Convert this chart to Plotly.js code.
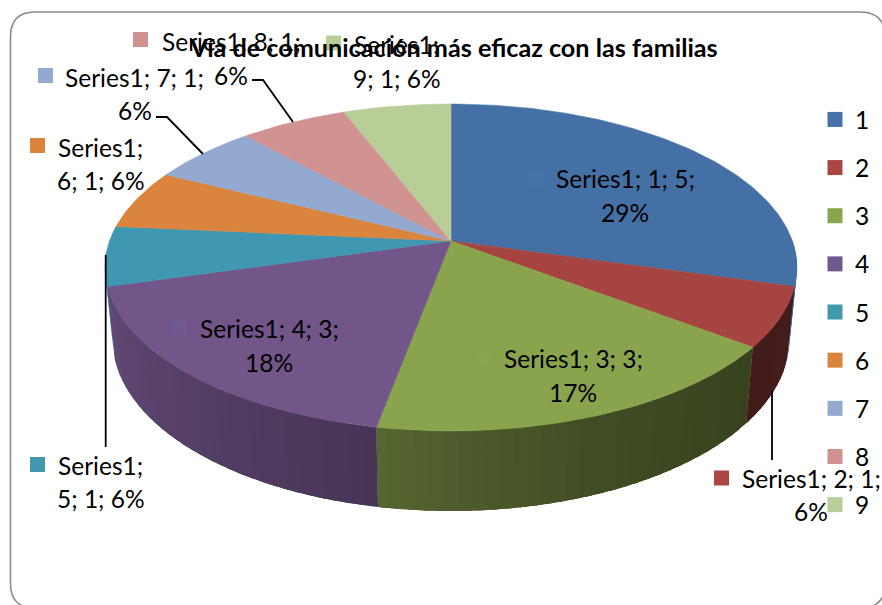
<!DOCTYPE html>
<html>
<head>
<meta charset="utf-8">
<script src="https://cdn.plot.ly/plotly-3.0.1.min.js"></script>
<style>html,body{margin:0;padding:0;background:#fff}#c{width:882px;height:605px}</style>
</head>
<body>
<div id="c"></div>
<script>
// ---- data ----
const categories = ["1","2","3","4","5","6","7","8","9"];
const values = [5,1,3,3,1,1,1,1,1];
const percents = ["29%","6%","17%","18%","6%","6%","6%","6%","6%"];
const seriesName = "Series1";
const chartTitle = "Vía de comunicación más eficaz con las familias";
const colors = ["#4570a6","#a64442","#8aa44e","#725589","#4097b1","#db843d","#93a9cf","#d19392","#b9cd96"];

// ---- pie projection (pixel-like frame) ----
const geo = {cx:451, cy:241, Rx:341.4, Ry:159.2, k:0.162, s:0.978, D:70.6};
const shadeAngles = [88,105,127,160,190,254,277];
const shadeFactors = [1,0.41,0.40,0.47,0.62,0.86,0.95];

function proj(deg, low){
  const t = deg*Math.PI/180, u = Math.sin(t), v = Math.cos(t), w = 1+geo.k*v, s = low?geo.s:1;
  return [geo.cx+geo.Rx*u*s/w, geo.cy-geo.Ry*v*s/w+(low?geo.D/w:0)];
}
function shade(deg){
  let i=0; while(i<shadeAngles.length-2 && deg>shadeAngles[i+1]) i++;
  const f=(deg-shadeAngles[i])/(shadeAngles[i+1]-shadeAngles[i]);
  return shadeFactors[i]+f*(shadeFactors[i+1]-shadeFactors[i]);
}
function dim(hex,f){
  const n=parseInt(hex.slice(1),16);
  return `rgb(${Math.round((n>>16&255)*f)},${Math.round((n>>8&255)*f)},${Math.round((n&255)*f)})`;
}
const total = values.reduce((a,b)=>a+b,0);
const bounds=[0]; values.forEach(v=>bounds.push(bounds[bounds.length-1]+v/total*360));

const traces=[];
function poly(xs,ys,col,w){
  traces.push({type:"scatter",mode:"lines",x:xs,y:ys,fill:"toself",fillcolor:col,
    line:{color:col,width:w},showlegend:false,hoverinfo:"skip"});
}
// side wall: every band runs under the next one so that no seam shows
const sideOrder=[0,4,1,2,3];
sideOrder.forEach(i=>{
  const a0=Math.max(bounds[i],88), a1=Math.min(bounds[i+1],277);
  for(let a=a0;a<a1;a+=2){
    const b=Math.min(a+2,a1), m=(a+b)/2, e=Math.min(a+5,a1);
    const col=(i===0||i===4)?colors[i]:dim(colors[i],shade(m));
    const xs=[],ys=[];
    for(let t=a;t<e;t+=1){const q=proj(t,false);xs.push(q[0]);ys.push(q[1]);}
    let q=proj(e,false);xs.push(q[0]);ys.push(q[1]);
    q=proj(e,true);xs.push(q[0]);ys.push(q[1]);
    for(let t=e-1;t>a;t-=1){q=proj(t,true);xs.push(q[0]);ys.push(q[1]);}
    q=proj(a,true);xs.push(q[0]);ys.push(q[1]);
    poly(xs,ys,col,0);
  }
});
// top surface
values.forEach((v,i)=>{
  const xs=[geo.cx], ys=[geo.cy];
  for(let a=bounds[i];a<bounds[i+1];a+=1){const q=proj(a,false);xs.push(q[0]);ys.push(q[1]);}
  const q=proj(bounds[i+1],false);xs.push(q[0]);ys.push(q[1]);xs.push(geo.cx);ys.push(geo.cy);
  poly(xs,ys,colors[i],0.5);
});
// label placement
const keyX=[535.5,721.5,484,179,37.5,37.5,45.5,140.5,333.5];
const keyY=[178,478,357,327,464.5,145.5,75.5,39.5,43];
const labelLines=[
  [`${seriesName}; 1; 5;`,625,178],[percents[0],625,212],
  [`${seriesName}; 2; 1;`,811,478],[percents[1],811,511],
  [`${seriesName}; 3; 3;`,573,358],[percents[2],573,392],
  [`${seriesName}; 4; 3;`,269,328],[percents[3],269,362],
  [`${seriesName};`,100,465],[`5; 1; ${percents[4]}`,101,498],
  [`${seriesName};`,100,147],[`6; 1; ${percents[5]}`,101,180],
  [`${seriesName}; 7; 1;`,134,77],[percents[6],135,110],
  [`${seriesName}; 8; 1;`,231,41],[percents[7],231,75],
  [`${seriesName};`,396,44],[`9; 1; ${percents[8]}`,397,78]
];
const legendColors=["#4572a7","#aa4643","#89a54e","#71588f","#4198af","#db843d","#93a9cf","#d19392","#b9cd96"];
categories.forEach((c,i)=>{
  traces.push({type:"scatter",mode:"markers",name:c,legendgroup:c,x:[keyX[i]],y:[keyY[i]],
    marker:{symbol:"square",size:15,color:legendColors[i],line:{width:0}},hoverinfo:"skip"});
});
const FONT="Lato, Carlito, 'Open Sans', sans-serif";
const annotations=labelLines.map(l=>({text:l[0],x:l[1],y:l[2],xref:"x",yref:"y",showarrow:false,
  xanchor:"center",yanchor:"middle",font:{family:FONT,size:24.5,color:"#000"}}));
const leader=[
  "M105.7,255 L105.7,447",
  "M772,391 L772,460",
  "M156,117 L167,117 L203,154",
  "M252,80 L263,80 L293,122"
].map(p=>({type:"path",path:p,xref:"x",yref:"y",line:{color:"#000",width:1.8}}));
const border={type:"path",xref:"x",yref:"y",
  path:"M10.5,37 Q10.5,12 35,12 L860,12 Q885,12 885,37 L885,584 Q885,608 860,608 L35,608 Q10.5,608 10.5,584 Z",
  line:{color:"#8c8c8c",width:1.6},fillcolor:"rgba(0,0,0,0)",layer:"below"};

Plotly.newPlot("c",traces,{
  width:882,height:605,margin:{l:0,r:0,t:0,b:0,pad:0},
  paper_bgcolor:"#fff",plot_bgcolor:"#fff",hovermode:false,
  title:{text:"<b>"+chartTitle+"</b>",x:454/882,xanchor:"center",xref:"paper",y:1-48/605,yanchor:"middle",
    yref:"container",font:{family:FONT,size:25.2,color:"#000"}},
  xaxis:{range:[0,882],visible:false,fixedrange:true},
  yaxis:{range:[605,0],visible:false,fixedrange:true},
  showlegend:true,
  legend:{x:815/882,xanchor:"left",y:1-97/605,yanchor:"top",bgcolor:"rgba(0,0,0,0)",borderwidth:0,
    tracegroupgap:13.3,font:{family:FONT,size:24.5,color:"#000"},itemclick:false,itemdoubleclick:false},
  shapes:[border].concat(leader),annotations:annotations
},{displayModeBar:false,staticPlot:true});
</script>
</body>
</html>
